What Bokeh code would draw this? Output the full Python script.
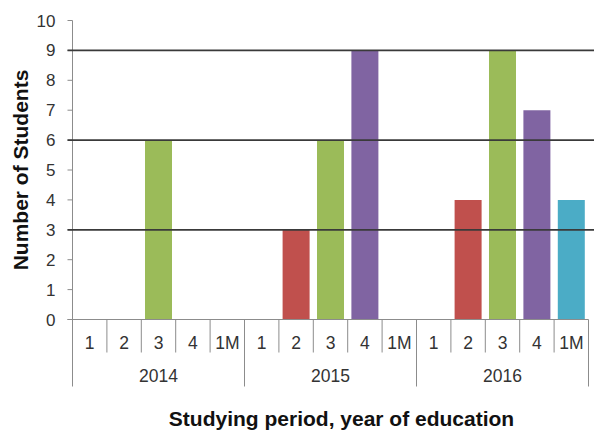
import math
from bokeh.plotting import figure
from bokeh.models import Range1d, ColumnDataSource
from bokeh.core.properties import value
from bokeh.embed import file_html
from bokeh.resources import INLINE

# ---- data ----
years = ["2014", "2015", "2016"]
periods = ["1", "2", "3", "4", "1M"]
counts_2014 = [0, 0, 6, 0, 0]
counts_2015 = [0, 3, 6, 9, 0]
counts_2016 = [0, 4, 9, 7, 4]
period_colors = ["#4F81BD", "#C0504D", "#9BBB59", "#8064A2", "#4BACC6"]
y_ticks = [0, 1, 2, 3, 4, 5, 6, 7, 8, 9, 10]
grid_values = [3, 6, 9]
y_title = "Number of Students"
x_title = "Studying period, year of education"

# ---- layout (pixels) ----
W, H = 594, 430
LEFT_PX = 72          # y axis line
CAT_PX = 34.4         # width of one category slot
ZERO_PX = 319         # pixel row of y = 0
UNIT_PX = 29.9        # pixels per student

def xd(px):  # pixel column -> data x
    return (px - LEFT_PX) / CAT_PX

def yd(py):  # pixel row -> data y
    return (ZERO_PX - py) / UNIT_PX

p = figure(width=W, height=H, output_backend="svg", toolbar_location=None,
           x_range=Range1d(xd(0), xd(W)), y_range=Range1d(yd(H), yd(0)),
           x_axis_location=None, y_axis_location=None, min_border=0)
p.outline_line_color = None
p.xgrid.visible = False
p.ygrid.visible = False
p.background_fill_color = "white"

# ---- bars ----
all_counts = [counts_2014, counts_2015, counts_2016]
bx, btop, bcol = [], [], []
for gi, counts in enumerate(all_counts):
    for pi, v in enumerate(counts):
        if v > 0:
            bx.append(gi * len(periods) + pi + 0.5)
            btop.append(v)
            bcol.append(period_colors[pi])
p.vbar(x="x", top="top", bottom=0, width=0.785, fill_color="color",
       line_color=None, source=ColumnDataSource(dict(x=bx, top=btop, color=bcol)))

n_cat = len(years) * len(periods)
axis_color = "#8c8c8c"
text_color = "#333333"
font = value("Liberation Sans")

# ---- y axis ----
p.segment(x0=[0], y0=[0], x1=[0], y1=[max(y_ticks)], line_color=axis_color, line_width=1)
p.segment(x0=[xd(LEFT_PX - 5)] * len(y_ticks), y0=y_ticks, x1=[0] * len(y_ticks), y1=y_ticks,
          line_color=axis_color, line_width=1)
p.text(x=[0] * len(y_ticks), y=y_ticks, text=[str(t) for t in y_ticks], x_offset=-17,
       text_align="right", text_baseline="middle", text_font=font,
       text_font_size="17px", text_color=text_color)

# ---- gridlines (on top of bars) ----
p.segment(x0=[xd(LEFT_PX - 5)] * len(grid_values), y0=grid_values,
          x1=[xd(W)] * len(grid_values), y1=grid_values,
          line_color="#3a3a3a", line_width=1.7)

# ---- category axis ----
p.segment(x0=[xd(LEFT_PX - 5)], y0=[0], x1=[n_cat], y1=[0], line_color=axis_color, line_width=1)
inner = [k for k in range(1, n_cat) if k % len(periods) != 0]
outer = [k for k in range(0, n_cat + 1) if k % len(periods) == 0]
p.segment(x0=inner, y0=[0] * len(inner), x1=inner, y1=[yd(352)] * len(inner),
          line_color=axis_color, line_width=1)
p.segment(x0=outer, y0=[0] * len(outer), x1=outer, y1=[yd(386)] * len(outer),
          line_color=axis_color, line_width=1)

cat_x = [i + 0.5 for i in range(n_cat)]
cat_lbl = [periods[i % len(periods)] for i in range(n_cat)]
p.text(x=cat_x, y=[yd(342)] * n_cat, text=cat_lbl, text_align="center",
       text_baseline="middle", text_font=font, text_font_size="17.5px", text_color=text_color)
grp_x = [gi * len(periods) + len(periods) / 2 for gi in range(len(years))]
p.text(x=grp_x, y=[yd(375)] * len(years), text=years, text_align="center",
       text_baseline="middle", text_font=font, text_font_size="17.5px", text_color=text_color)

# ---- titles ----
p.text(x=[n_cat / 2], y=[yd(418)], text=[x_title], x_offset=11, text_align="center",
       text_baseline="middle", text_font=font, text_font_style="bold",
       text_font_size="21px", text_color="#111111")
p.text(x=[xd(20)], y=[max(y_ticks) / 2], text=[y_title], angle=math.pi / 2,
       text_align="center", text_baseline="middle", text_font=font,
       text_font_style="bold", text_font_size="21px", text_color="#111111")

open("out.html", "w").write(file_html(p, INLINE))
